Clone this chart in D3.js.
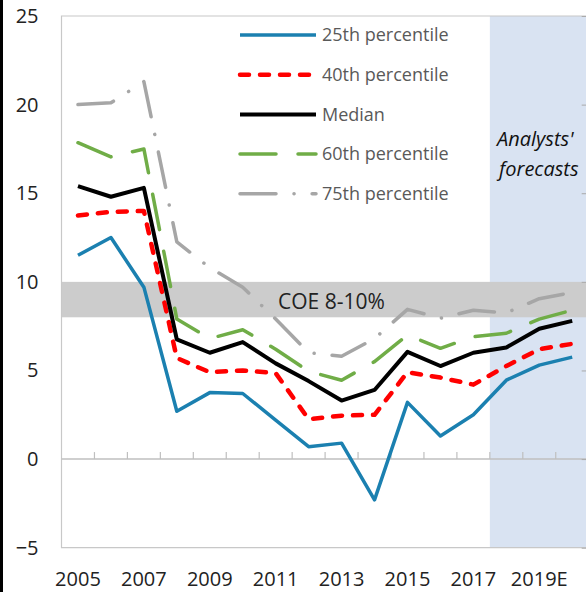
<!DOCTYPE html>
<html>
<head>
<meta charset="utf-8">
<script src="https://cdn.jsdelivr.net/npm/d3@7"></script>
<style>
  body { margin: 0; background: #fff; }
  text { font-family: "Open Sans", sans-serif; }
</style>
</head>
<body>
<div id="chart"></div>
<script>
var width  = 586;
var height = 592;

// Data
var years   = ["2005", "2006", "2007", "2008", "2009", "2010", "2011", "2012",
               "2013", "2014", "2015", "2016", "2017", "2018E", "2019E", "2020E"];
var p25     = [11.5, 12.5, 9.7, 2.7, 3.75, 3.7, 2.2, 0.7, 0.9, -2.3, 3.2, 1.3, 2.5, 4.45, 5.3, 5.75];
var p40     = [13.75, 13.95, 14.0, 5.7, 4.9, 5.0, 4.85, 2.25, 2.45, 2.5, 4.9, 4.6, 4.2, 5.25, 6.2, 6.5];
var median  = [15.4, 14.8, 15.3, 6.75, 6.0, 6.6, 5.4, 4.4, 3.3, 3.9, 6.05, 5.25, 6.0, 6.3, 7.35, 7.8];
var p60     = [17.85, 17.05, 17.5, 7.9, 6.8, 7.3, 6.2, 4.95, 4.45, 5.5, 7.0, 6.25, 6.9, 7.1, 7.9, 8.4];
var p75     = [20.0, 20.1, 21.3, 12.25, 10.8, 9.7, 7.9, 6.0, 5.8, 6.8, 8.45, 7.95, 8.4, 8.25, 9.05, 9.4];
var yTicks  = [-5, 0, 5, 10, 15, 20, 25];
var xLabels = ["2005", "2007", "2009", "2011", "2013", "2015", "2017", "2019E"];
var coeBand = [8, 10];
var forecastFrom = "2018E";

var series = [
  { name: "25th percentile", values: p25,    color: "#1b80b0", width: 3.5, dash: null },
  { name: "40th percentile", values: p40,    color: "#ff0000", width: 4.5, dash: "9 11" },
  { name: "Median",          values: median, color: "#000000", width: 4,   dash: null },
  { name: "60th percentile", values: p60,    color: "#70ad47", width: 3.5, dash: "36 22" },
  { name: "75th percentile", values: p75,    color: "#a6a6a6", width: 3.5, dash: "36 18 0.1 18" }
];

var plot = { left: 61.5, right: 588.7, top: 16, bottom: 547.7 };

var x = d3.scaleBand()
          .domain(years)
          .range([plot.left, plot.right])
          .padding(0);

var y = d3.scaleLinear()
          .domain([-5, 25])
          .range([plot.bottom, plot.top]);

var cx = function(d) { return x(d) + x.bandwidth() / 2; };

var svg = d3.select('#chart')
            .append('svg')
            .attr('width', width)
            .attr('height', height);

svg.append('rect')
   .attr('width', width)
   .attr('height', height)
   .style('fill', '#fff');

// Forecast shading
svg.append('rect')
   .attr('x', x(forecastFrom))
   .attr('y', plot.top)
   .attr('width', plot.right - x(forecastFrom))
   .attr('height', plot.bottom - plot.top)
   .style('fill', '#d9e3f2');

// Cost of equity band
svg.append('rect')
   .attr('x', plot.left)
   .attr('y', y(coeBand[1]))
   .attr('width', plot.right - plot.left)
   .attr('height', y(coeBand[0]) - y(coeBand[1]))
   .style('fill', '#cccccc');

// Plot frame
svg.append('path')
   .attr('d', 'M' + plot.right + ',' + plot.top + 'H' + plot.left +
              'V' + plot.bottom + 'H' + plot.right)
   .style('fill', 'none')
   .style('stroke', '#c8c8c8')
   .style('stroke-width', 1.2);

// Zero line with category ticks
svg.append('line')
   .attr('x1', plot.left)
   .attr('x2', plot.right)
   .attr('y1', y(0))
   .attr('y2', y(0))
   .style('stroke', '#bfbfbf')
   .style('stroke-width', 1.5);

svg.selectAll('.cattick')
   .data(years.slice(1))
   .enter()
   .append('line')
   .attr('class', 'cattick')
   .attr('x1', function(d) { return x(d); })
   .attr('x2', function(d) { return x(d); })
   .attr('y1', y(0))
   .attr('y2', y(0) - 7)
   .style('stroke', '#bfbfbf')
   .style('stroke-width', 1.2);

// Y axis labels
var yAxis = svg.append('g')
               .attr('transform', 'translate(' + plot.left + ',0)')
               .call(d3.axisLeft(y).tickValues(yTicks).tickSize(0).tickPadding(23));
yAxis.select('.domain').remove();
yAxis.selectAll('text')
     .style('font-size', '20px')
     .style('fill', '#222');

// Right axis ticks, pointing inward
var rAxis = svg.append('g')
               .attr('transform', 'translate(' + plot.right + ',0)')
               .call(d3.axisLeft(y).tickValues(yTicks).tickSize(7).tickFormat(''));
rAxis.select('.domain').remove();
rAxis.selectAll('line').style('stroke', '#aaa');

// X axis labels
var xAxis = svg.append('g')
               .attr('transform', 'translate(0,' + plot.bottom + ')')
               .call(d3.axisBottom(x).tickValues(xLabels).tickSize(0).tickPadding(24));
xAxis.select('.domain').remove();
xAxis.selectAll('text')
     .style('font-size', '20px')
     .style('fill', '#222');

svg.append('text')
   .attr('x', 278)
   .attr('y', 309)
   .style('font-size', '21px')
   .style('fill', '#222')
   .text('COE 8-10%');

svg.append('text')
   .attr('x', 497)
   .attr('y', 146)
   .style('font-size', '20px')
   .style('font-style', 'italic')
   .style('fill', '#111')
   .text("Analysts'");

svg.append('text')
   .attr('x', 499)
   .attr('y', 176)
   .style('font-size', '20px')
   .style('font-style', 'italic')
   .style('fill', '#111')
   .text('forecasts');

var line = d3.line()
             .x(function(d, i) { return cx(years[i]); })
             .y(function(d) { return y(d); });

// Draw back to front so the median sits above the outer bands
var drawOrder = [4, 3, 1, 0, 2];
drawOrder.forEach(function(k) {
  var s = series[k];
  svg.append('path')
     .attr('d', line(s.values))
     .style('fill', 'none')
     .style('stroke', s.color)
     .style('stroke-width', s.width)
     .style('stroke-linecap', s.dash ? 'round' : 'butt')
     .style('stroke-linejoin', 'round')
     .style('stroke-dasharray', s.dash);
});

// Legend
var legend = svg.selectAll('.legend')
                .data(series)
                .enter()
                .append('g')
                .attr('class', 'legend')
                .attr('transform', function(d, i) {
                  return 'translate(240,' + (35 + i * 39.7) + ')';
                });

legend.append('line')
      .attr('x1', 0)
      .attr('x2', 76)
      .style('stroke', function(d) { return d.color; })
      .style('stroke-width', function(d) { return d.width; })
      .style('stroke-linecap', function(d) { return d.dash ? 'round' : 'butt'; })
      .style('stroke-dasharray', function(d) { return d.dash; });

legend.append('text')
      .attr('x', 82)
      .attr('dy', '0.35em')
      .style('font-size', '18px')
      .style('fill', '#595959')
      .text(function(d) { return d.name; });

// Black frame edge on the left
svg.append('line')
   .attr('x1', 1.5)
   .attr('x2', 1.5)
   .attr('y1', 0)
   .attr('y2', height)
   .style('stroke', '#000')
   .style('stroke-width', 3);
</script>
</body>
</html>
